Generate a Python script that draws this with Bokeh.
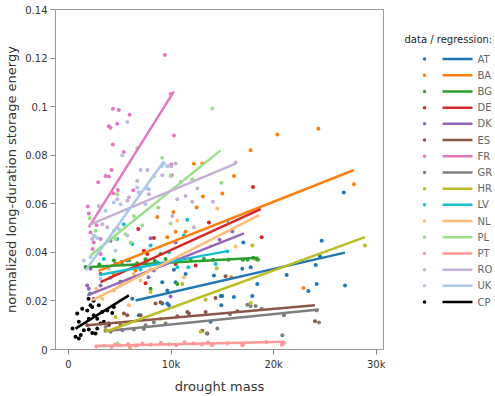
from bokeh.plotting import figure
from bokeh.layouts import row
from bokeh.models import Range1d, FixedTicker, CustomJSTickFormatter
from bokeh.embed import file_html
from bokeh.resources import INLINE
from bokeh.core.properties import value

countries = ["AT", "BA", "BG", "DE", "DK", "ES", "FR", "GR", "HR", "LV", "NL", "PL", "PT", "RO", "UK", "CP"]
colors = ["#1f77b4", "#ff7f0e", "#2ca02c", "#d62728", "#9467bd", "#8c564b", "#e377c2", "#7f7f7f",
          "#bcbd22", "#17becf", "#ffbb78", "#98df8a", "#ff9896", "#c5b0d5", "#aec7e8", "#000000"]

x_tick_values = [0, 10000, 20000, 30000]
x_tick_labels = ["0", "10k", "20k", "30k"]
y_tick_values = [0, 0.02, 0.04, 0.06, 0.08, 0.1, 0.12, 0.14]
y_tick_labels = ["0", "0.02", "0.04", "0.06", "0.08", "0.1", "0.12", "0.14"]

at_x = [24683, 24098, 24195, 26956, 23385, 21268, 24517, 17756, 16942, 18407, 17919, 16127, 14995, 14897,
        14178, 17043, 14829, 9785, 9141, 9629, 11414, 6858, 9141, 10273, 13854, 6215, 9629, 10439, 26840]
at_y = [0.0448, 0.0348, 0.0270, 0.0264, 0.0241, 0.0307, 0.0384, 0.0339, 0.0332, 0.0270, 0.0220, 0.0216, 0.0220, 0.0182,
        0.0305, 0.0441, 0.0220, 0.0182, 0.0189, 0.0189, 0.0311, 0.0141, 0.0277, 0.0328, 0.0114, 0.0209, 0.0243, 0.0277, 0.0646]
ba_x = [24360, 20361, 17756, 16127, 14995, 27834, 13102, 12224, 13044, 12488, 10215, 8653, 10439, 11414, 9629,
        15873, 22898, 18244, 6537, 7678, 5200, 4400]
ba_y = [0.0909, 0.0885, 0.0820, 0.0714, 0.0642, 0.0680, 0.0630, 0.0765, 0.0766, 0.0585, 0.0566, 0.0546, 0.0485, 0.0485, 0.0462,
        0.0298, 0.0253, 0.0373, 0.0325, 0.0366, 0.0360, 0.0310]
bg_x = [1659, 3000, 4420, 5200, 5900, 6700, 7500, 8400, 9463, 10600, 11902, 13200, 14100, 15580, 17010, 17463, 18473,
        8000, 5073, 8975, 10605, 2100, 18000]
bg_y = [0.0340, 0.0350, 0.0366, 0.0360, 0.0368, 0.0355, 0.0372, 0.0365, 0.0373, 0.0368, 0.0373, 0.0373, 0.0370, 0.0370,
        0.0370, 0.0370, 0.0370, 0.0250, 0.0279, 0.0393, 0.0270, 0.0230, 0.0378]
de_x = [17985, 13688, 18829, 6800, 8322, 7512, 12390, 7346, 6702, 7678, 3122, 4585, 10439]
de_y = [0.0669, 0.0523, 0.0462, 0.0496, 0.0459, 0.0273, 0.0346, 0.0407, 0.0346, 0.0393, 0.0311, 0.0352, 0.0352]
dk_x = [15971, 14731, 8000, 10439, 1980, 3122, 6049, 8322, 2468, 4098, 9951, 2146, 1824, 7800]
dk_y = [0.0486, 0.0452, 0.0458, 0.0441, 0.0250, 0.0264, 0.0291, 0.0325, 0.0209, 0.0448, 0.0218, 0.0332, 0.0264, 0.0298]
es_x = [15317, 14341, 16459, 24030, 11737, 13366, 8975, 8487, 13044, 13532, 10605, 5727, 5073, 3932, 1824, 5395,
        7024, 11580]
es_y = [0.0302, 0.0212, 0.0157, 0.0116, 0.0148, 0.0154, 0.0195, 0.0189, 0.0077, 0.0066, 0.0137, 0.0141, 0.0100, 0.0100,
        0.0100, 0.0148, 0.0141, 0.0154]
fr_x = [9395, 9951, 10273, 4322, 4907, 5951, 4751, 3932, 4098, 4322, 5395, 4195, 3610, 3932, 2898, 4361, 4810, 6312,
        10020, 10078, 1883, 1980, 2146, 2468, 3122, 2732, 2341, 3122]
fr_y = [0.1213, 0.1052, 0.0881, 0.0991, 0.0986, 0.0967, 0.0930, 0.0919, 0.0913, 0.0844, 0.0813, 0.0739, 0.0714, 0.0712,
        0.0689, 0.0643, 0.0657, 0.0656, 0.0762, 0.0717, 0.0589, 0.0560, 0.0482, 0.0441, 0.0455, 0.0512, 0.0414, 0.0393]
gr_x = [21004, 24195, 24420, 20849, 17434, 17756, 18244, 18829, 15736, 13463, 14507, 7512, 8322, 9463, 4098, 5239,
        6371, 7346, 3610]
gr_y = [0.0141, 0.0161, 0.0111, 0.0059, 0.0184, 0.0179, 0.0179, 0.0168, 0.0145, 0.0066, 0.0086, 0.0100, 0.0111, 0.0107,
        0.0073, 0.0079, 0.0082, 0.0084, 0.0093]
hr_x = [28907, 17922, 14439, 17756, 13366, 12878, 11092, 4585, 6702, 8975, 3610, 8000]
hr_y = [0.0428, 0.0428, 0.0335, 0.0191, 0.0205, 0.0073, 0.0270, 0.0134, 0.0018, 0.0127, 0.0079, 0.0237]
lv_x = [5395, 4751, 6215, 8000, 9785, 10605, 8653, 7024, 5727, 3444, 4098, 11580, 11248, 15483, 15483, 11678, 14341]
lv_y = [0.0516, 0.0455, 0.0434, 0.0428, 0.0400, 0.0339, 0.0359, 0.0329, 0.0366, 0.0373, 0.0295, 0.0534, 0.0469, 0.0530,
        0.0405, 0.0339, 0.0352]
nl_x = [14507, 13854, 10605, 11248, 5073, 7024, 3288, 4420, 5883, 6371, 16293, 9000, 8000, 2700]
nl_y = [0.0581, 0.0425, 0.0530, 0.0298, 0.0264, 0.0284, 0.0209, 0.0243, 0.0182, 0.0311, 0.0424, 0.0350, 0.0330, 0.0250]
pl_x = [14020, 14897, 9141, 6702, 4751, 8322, 9951, 8751, 7190, 9951, 12068, 2078, 2634, 6371, 5561, 4585, 2566, 4420,
        6049, 4751]
pl_y = [0.0992, 0.0687, 0.0790, 0.0829, 0.0639, 0.0712, 0.0714, 0.0585, 0.0512, 0.0519, 0.0701, 0.0540, 0.0489, 0.0550,
        0.0475, 0.0455, 0.0466, 0.0489, 0.0441, 0.0025]
pt_x = [2700, 3500, 4200, 5000, 5800, 6500, 7200, 8000, 9000, 9800, 10500, 11300, 12200, 13000, 14000, 15500, 16946,
        17010, 19290, 21004, 20800, 13600, 6000, 4500]
pt_y = [0.0012, 0.0015, 0.0010, 0.0018, 0.0022, 0.0016, 0.0025, 0.0020, 0.0028, 0.0022, 0.0017, 0.0030, 0.0025, 0.0021,
        0.0018, 0.0026, 0.0018, 0.0022, 0.0031, 0.0027, 0.0020, 0.0029, 0.0008, 0.0020]
ro_x = [7024, 7678, 10439, 10020, 6702, 9141, 10927, 12556, 11414, 7834, 5883, 6858, 10605, 12068, 14078, 12224, 10117,
        2956, 4751, 5727, 3288, 3776, 2312, 16293]
ro_y = [0.0739, 0.0739, 0.0766, 0.0755, 0.0694, 0.0717, 0.0690, 0.0663, 0.0632, 0.0639, 0.0626, 0.0646, 0.0619, 0.0608,
        0.0608, 0.0503, 0.0550, 0.0591, 0.0619, 0.0612, 0.0516, 0.0503, 0.0455, 0.0770]
uk_x = [5727, 5239, 9298, 9073, 6702, 7678, 9629, 7834, 7512, 6858, 1493, 2146, 4585, 4907, 5727, 3932, 3122, 4420,
        5073, 3610, 2468, 2800]
uk_y = [0.0937, 0.0800, 0.0765, 0.0755, 0.0667, 0.0663, 0.0755, 0.0660, 0.0598, 0.0646, 0.0366, 0.0380, 0.0407, 0.0496,
        0.0469, 0.0332, 0.0291, 0.0605, 0.0598, 0.0571, 0.0469, 0.0459]
cp_x = [683, 1005, 849, 1005, 1337, 1824, 2146, 1493, 1980, 2312, 2634, 1980, 2468, 2800, 3122, 3288, 3776, 3444, 3932,
        2312, 2956, 4263, 4420, 2800, 2439, 1951, 390, 1200]
cp_y = [0.0052, 0.0045, 0.0148, 0.0114, 0.0168, 0.0161, 0.0182, 0.0079, 0.0082, 0.0068, 0.0066, 0.0127, 0.0141, 0.0127,
        0.0107, 0.0154, 0.0161, 0.0114, 0.0107, 0.0175, 0.0182, 0.0150, 0.0175, 0.0086, 0.0201, 0.0209, 0.0086, 0.0060]

# regression line end points per country (same order as countries)
reg_x0 = [6537, 2927, 1659, 3122, 1824, 1824, 1980, 3444, 3610, 2956, 2312, 2146, 2634, 1980, 1659, 683]
reg_y0 = [0.0202, 0.0324, 0.0339, 0.0277, 0.0223, 0.0100, 0.0503, 0.0075, 0.0073, 0.0307, 0.0202, 0.0387, 0.0014, 0.0512, 0.0325, 0.0086]
reg_x1 = [26956, 27834, 18507, 18732, 17107, 24030, 10273, 24420, 28907, 15483, 18566, 14829, 21000, 16293, 9298, 5883]
reg_y1 = [0.0399, 0.0739, 0.0378, 0.0578, 0.0478, 0.0182, 0.1063, 0.0165, 0.0463, 0.0405, 0.0553, 0.0820, 0.0032, 0.0765, 0.0775, 0.0223]

series = {"AT": (at_x, at_y), "BA": (ba_x, ba_y), "BG": (bg_x, bg_y), "DE": (de_x, de_y), "DK": (dk_x, dk_y),
          "ES": (es_x, es_y), "FR": (fr_x, fr_y), "GR": (gr_x, gr_y), "HR": (hr_x, hr_y), "LV": (lv_x, lv_y),
          "NL": (nl_x, nl_y), "PL": (pl_x, pl_y), "PT": (pt_x, pt_y), "RO": (ro_x, ro_y), "UK": (uk_x, uk_y),
          "CP": (cp_x, cp_y)}

FONT = "DejaVu Sans"

p = figure(width=398, height=396, x_range=Range1d(-1270, 30710), y_range=Range1d(0, 0.14),
           output_backend="svg", toolbar_location=None,
           min_border_left=55, min_border_right=15, min_border_top=9, min_border_bottom=45)
p.grid.visible = False
p.outline_line_color = "#999999"

for c, col in zip(countries, colors):
    xs, ys = series[c]
    p.scatter(xs, ys, size=4, fill_color=col, line_color=None)

for i, (c, col) in enumerate(zip(countries, colors)):
    p.line([reg_x0[i], reg_x1[i]], [reg_y0[i], reg_y1[i]], line_color=col, line_width=2.5)

fmt_code = "const i = vals.findIndex(v => Math.abs(v - tick) < 1e-9); return i >= 0 ? labs[i] : '';"
p.xaxis.ticker = FixedTicker(ticks=x_tick_values)
p.xaxis.formatter = CustomJSTickFormatter(args=dict(vals=x_tick_values, labs=x_tick_labels), code=fmt_code)
p.yaxis.ticker = FixedTicker(ticks=y_tick_values)
p.yaxis.formatter = CustomJSTickFormatter(args=dict(vals=y_tick_values, labs=y_tick_labels), code=fmt_code)
p.xaxis.axis_label = "drought mass"
p.yaxis.axis_label = "normalized long-duration storage energy"
for ax in (p.xaxis, p.yaxis):
    ax.axis_line_color = "#999999"
    ax.major_tick_line_color = "#888888"
    ax.major_tick_out = 5
    ax.major_tick_in = 0
    ax.minor_tick_out = 0
    ax.minor_tick_in = 0
    ax.major_label_text_font = FONT
    ax.major_label_text_font_size = "10px"
    ax.major_label_text_color = "#333333"
    ax.axis_label_text_font = FONT
    ax.axis_label_text_font_size = "13px"
    ax.axis_label_text_font_style = "normal"
    ax.axis_label_text_color = "#333333"
p.xaxis.major_label_standoff = 4
p.xaxis.axis_label_standoff = 6
p.yaxis.major_label_standoff = 3
p.yaxis.axis_label_standoff = 3

# legend panel (coordinates are page pixels)
lg = figure(width=97, height=396, x_range=Range1d(398, 495), y_range=Range1d(396, 0),
            output_backend="svg", toolbar_location=None, x_axis_location=None, y_axis_location=None,
            min_border_left=0, min_border_right=0, min_border_top=0, min_border_bottom=0)
lg.grid.visible = False
lg.outline_line_color = None

row_y = [57.7 + i * 18.87 for i in range(len(countries))]
lg.text(x=[404], y=[35], text=["data / regression:"], text_font=value(FONT), text_font_size="10px",
        text_color="#222222", text_baseline="middle", text_align="left")
lg.scatter([424] * len(countries), row_y, size=3.5, fill_color=colors, line_color=None)
lg.segment(x0=[442] * len(countries), y0=row_y, x1=[472] * len(countries), y1=row_y,
           line_color=colors, line_width=2.5)
lg.text(x=[477] * len(countries), y=row_y, text=countries, text_font=value(FONT), text_font_size="10px",
        text_color="#666666", text_baseline="middle", text_align="left")

layout = row(p, lg)
open("out.html", "w").write(file_html(layout, INLINE))
